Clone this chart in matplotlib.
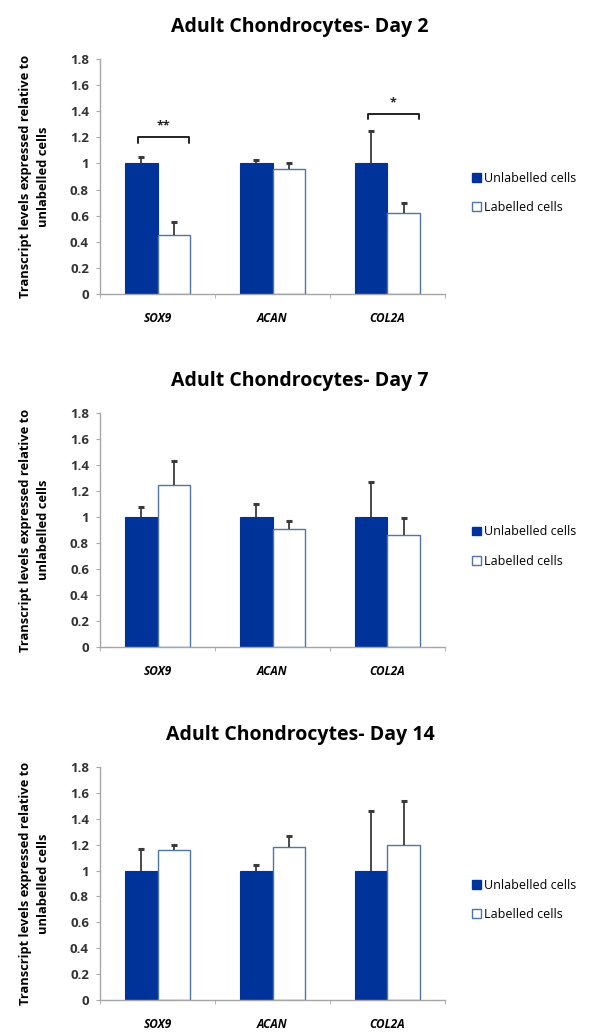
import matplotlib
matplotlib.use("Agg")
import matplotlib.pyplot as plt
from matplotlib.patches import Patch
import numpy as np

plt.rcParams['font.family'] = ['Open Sans', 'DejaVu Sans']

genes = ["SOX9", "ACAN", "COL2A"]
titles = ["Adult Chondrocytes- Day 2", "Adult Chondrocytes- Day 7", "Adult Chondrocytes- Day 14"]
series_names = ["Unlabelled cells", "Labelled cells"]

unlab_day2 = [1.0, 1.0, 1.0]
unlab_err_day2 = [0.05, 0.03, 0.25]
lab_day2 = [0.45, 0.96, 0.62]
lab_err_day2 = [0.10, 0.04, 0.08]

unlab_day7 = [1.0, 1.0, 1.0]
unlab_err_day7 = [0.08, 0.10, 0.27]
lab_day7 = [1.25, 0.91, 0.86]
lab_err_day7 = [0.18, 0.06, 0.13]

unlab_day14 = [1.0, 1.0, 1.0]
unlab_err_day14 = [0.17, 0.04, 0.46]
lab_day14 = [1.16, 1.18, 1.20]
lab_err_day14 = [0.04, 0.09, 0.34]

# significance: (gene index, bracket height, label)
sig_day2 = [(0, 1.20, "**"), (2, 1.38, "*")]

yticks = [0, 0.2, 0.4, 0.6, 0.8, 1, 1.2, 1.4, 1.6, 1.8]
ytick_labels = ["0", "0.2", "0.4", "0.6", "0.8", "1", "1.2", "1.4", "1.6", "1.8"]

panels = [
    (titles[0], unlab_day2, unlab_err_day2, lab_day2, lab_err_day2, sig_day2),
    (titles[1], unlab_day7, unlab_err_day7, lab_day7, lab_err_day7, []),
    (titles[2], unlab_day14, unlab_err_day14, lab_day14, lab_err_day14, []),
]

W, H = 598, 1032
fig = plt.figure(figsize=(W / 100, H / 100), dpi=100)

# axes pixel boxes (left, top, right, bottom)
boxes = [(100, 59, 445, 294), (100, 413, 445, 647), (100, 767, 445, 1000)]
title_y = [27, 381, 735]

blue = "#003399"
edge_white = "#4f74a8"
err_col = "#3a3a3a"
spine_col = "#a6a6a6"

x = np.arange(len(genes))
bw = 0.28

for (title, u, ue, l, le, sig), (x0, y0, x1, y1), ty in zip(panels, boxes, title_y):
    ax = fig.add_axes([x0 / W, 1 - y1 / H, (x1 - x0) / W, (y1 - y0) / H])
    ax.bar(x - bw / 2, u, bw, color=blue, edgecolor=blue, linewidth=0.8, zorder=2)
    ax.bar(x + bw / 2, l, bw, color="white", edgecolor=edge_white, linewidth=1.0, zorder=2)
    for xs, vals, errs in [(x - bw / 2, u, ue), (x + bw / 2, l, le)]:
        eb = ax.errorbar(xs, vals, yerr=[np.zeros(3), errs], fmt="none", ecolor=err_col,
                         elinewidth=1.3, capsize=2.5, capthick=2.2, zorder=3)
        caps = eb[1]
        if len(caps) > 1:
            caps[0].set_visible(False)
    for gi, h, lab in sig:
        xa = gi - bw / 2 - 0.03
        xb = gi + bw / 2 + 0.13
        ax.plot([xa, xa, xb, xb], [h - 0.04, h, h, h - 0.04], color="#222222", lw=1.4,
                solid_capstyle="round", solid_joinstyle="round")
        ax.text((xa + xb) / 2, h + 0.035, lab, ha="center", va="bottom",
                fontsize=9, fontweight="bold", color="#222222")

    ax.set_xlim(-0.5, 2.5)
    ax.set_ylim(0, 1.8)
    ax.set_yticks(yticks)
    ax.set_yticklabels(ytick_labels)
    ax.set_xticks(x)
    ax.set_xticklabels(genes, fontstyle="italic", fontweight="bold", fontsize=8.5)
    ax.set_xticks([-0.5, 0.5, 1.5, 2.5], minor=True)
    ax.tick_params(axis="x", which="major", length=0, pad=13)
    ax.tick_params(axis="x", which="minor", length=3, color=spine_col, direction="out")
    ax.tick_params(axis="y", length=3, color=spine_col, labelsize=9.5, pad=5,
                   labelcolor="#333333")
    for t in ax.get_yticklabels():
        t.set_fontweight("bold")
    for s in ["top", "right"]:
        ax.spines[s].set_visible(False)
    for s in ["left", "bottom"]:
        ax.spines[s].set_color(spine_col)
        ax.spines[s].set_linewidth(1.0)
    ax.set_ylabel("Transcript levels expressed relative to\nunlabelled cells",
                  fontsize=9.3, fontweight="bold", labelpad=14, linespacing=1.5)
    fig.text(300 / W, 1 - ty / H, title, ha="center", va="center",
             fontsize=14, fontweight="bold")

    handles = [Patch(facecolor=blue, edgecolor=blue),
               Patch(facecolor="white", edgecolor=edge_white)]
    ax.legend(handles, series_names, loc="center left",
              bbox_to_anchor=((467 - x0) / (x1 - x0), 0.43), frameon=False,
              fontsize=9, handlelength=0.7, handleheight=0.7, handletextpad=0.3,
              labelspacing=1.3, borderaxespad=0)

fig.savefig("out.png", dpi=100, facecolor="white")
